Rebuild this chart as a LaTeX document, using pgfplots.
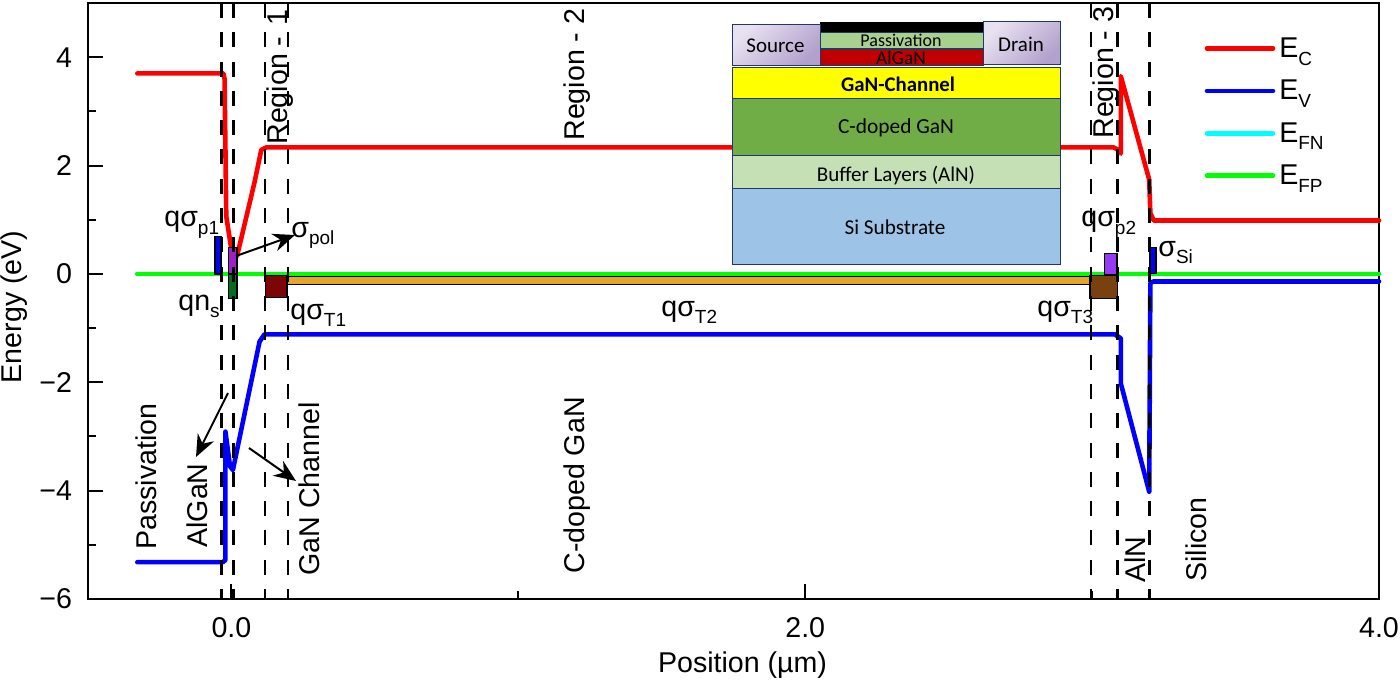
\documentclass[border=0pt]{standalone}
\usepackage{pgfplots}
\pgfplotsset{compat=1.18}
\usepackage{fontspec}
\setmainfont{Liberation Sans}
\newfontfamily\calibri{Carlito}
\usetikzlibrary{arrows.meta}
\definecolor{layerline}{RGB}{32,56,100}
\definecolor{ec}{RGB}{255,0,0}
\definecolor{ev}{RGB}{0,0,255}
\definecolor{efn}{RGB}{0,255,255}
\definecolor{efp}{RGB}{0,255,0}
\definecolor{tpol}{RGB}{160,32,200}
\definecolor{tns}{RGB}{0,110,30}
\definecolor{tone}{RGB}{125,5,5}
\definecolor{ttwo}{RGB}{230,165,40}
\definecolor{tthree}{RGB}{120,65,15}
\definecolor{tptwo}{RGB}{150,60,240}
\definecolor{lpass}{RGB}{169,209,142}
\definecolor{lalgan}{RGB}{192,0,0}
\definecolor{lchan}{RGB}{255,255,0}
\definecolor{lcdoped}{RGB}{112,173,71}
\definecolor{lbuffer}{RGB}{197,224,180}
\definecolor{lsi}{RGB}{157,195,230}
\definecolor{lmetala}{RGB}{232,226,240}
\definecolor{lmetalb}{RGB}{178,160,205}
% one picture pixel is 0.5pt
\newcommand{\sub}[1]{\raisebox{-3.8pt}{\fontsize{9.5}{10}\selectfont #1}}
\tikzset{
    lab/.style={font=\fontsize{14.3}{16}\selectfont,inner sep=0pt},
    vlab/.style={lab,rotate=90,anchor=base west},
    hlab/.style={lab,anchor=base west},
    arr/.style={black,line width=1pt,-{Stealth[length=11pt,width=9pt]}},
    layer/.style={draw=layerline,line width=0.5pt},
    layertxt/.style={font=\calibri\fontsize{#1}{11}\selectfont,text=black,inner sep=0pt},
}
\pgfplotsset{
    band/.style={line width=2.3pt,line join=round,line cap=round,no markers},
    trap/.style={draw=black,line width=0.7pt,fill=#1,forget plot},
    bound/.style={black,line width=1.2pt,dash pattern=on 7.5pt off 7.15pt,dash phase=2.5pt,forget plot},
}
\begin{document}
\begin{tikzpicture}
\path[use as bounding box] (-44pt,-41pt) rectangle (656pt,299.5pt);
\begin{axis}[
    at={(0pt,0pt)},anchor=south west,
    scale only axis,width=645.5pt,height=298pt,
    xmin=-0.5,xmax=4,ymin=-6,ymax=5,
    axis line style={line width=1.2pt},
    every tick/.style={black,line width=1pt},
    tick align=inside,
    major tick length=7.5pt,
    minor tick length=4pt,
    xtick={0,2,4},
    xticklabels={0.0,2.0,4.0},
    minor xtick={1,3},
    ytick={-6,-4,-2,0,2,4},
    yticklabels={−6,−4,−2,0,2,4},
    minor ytick={-5,-3,-1,1,3},
    xtick pos=bottom,ytick pos=left,
    tick label style={font=\fontsize{14.3}{16}\selectfont},
    xticklabel style={yshift=-5.5pt},
    yticklabel style={xshift=-4.5pt},
    xlabel={Position (µm)},ylabel={Energy (eV)},
    label style={font=\fontsize{14.3}{16}\selectfont},
    xlabel style={at={(axis description cs:0.507,0)},anchor=base,yshift=-36.5pt},
    ylabel style={at={(axis description cs:0,0.49)},anchor=base,yshift=33pt},
    clip=false,
    legend style={draw=none,fill=none,at={(axis cs:3.391,4.334)},anchor=north west,
        font=\fontsize{14.3}{16}\selectfont,row sep=8.8pt,inner sep=0pt,
        nodes={text height=9pt,text depth=3.4pt,inner sep=0pt},
        cells={anchor=base west}},
    legend image code/.code={\draw[#1,line cap=round] (0cm,4.5pt) -- (33pt,4.5pt);\path (35pt,0pt);},
]
\addplot[band,color=ec] coordinates {
    (-0.328,3.70)(-0.028,3.70)(-0.024,3.60)(-0.018,1.06)(-0.001,0.48)(0.012,0.30)(0.020,0.34)
    (0.080,1.68)(0.104,2.29)(0.121,2.335)(3.075,2.335)(3.090,2.29)(3.100,2.22)(3.100,3.65)
    (3.199,1.74)(3.203,1.12)(3.215,0.985)(4.0,0.985)};
\addlegendentry{E\sub{C}}
\addplot[band,color=ev] coordinates {
    (-0.328,-5.32)(-0.030,-5.32)(-0.021,-5.28)(-0.021,-2.91)(-0.005,-3.55)(0.005,-3.62)
    (0.098,-1.25)(0.115,-1.115)(3.079,-1.115)(3.100,-1.19)(3.100,-2.02)(3.199,-4.02)
    (3.203,-0.17)(3.213,-0.14)(4.0,-0.14)};
\addlegendentry{E\sub{V}}
\addplot[band,color=efn] coordinates {(-0.328,0)(4.0,0)};
\addlegendentry{E\sub{FN}}
\addplot[band,color=efp] coordinates {(-0.328,0)(4.0,0)};
\addlegendentry{E\sub{FP}}

% trap and charge boxes
\addplot[trap=ev] coordinates {(-0.058,0.69)(-0.036,0.69)(-0.036,0)(-0.058,0)} -- cycle;
\addplot[trap=tpol] coordinates {(-0.010,0.486)(0.019,0.486)(0.019,0)(-0.010,0)} -- cycle;
\addplot[trap=tns] coordinates {(-0.010,0)(0.019,0)(0.019,-0.45)(-0.010,-0.45)} -- cycle;
\addplot[trap=tone] coordinates {(0.118,-0.03)(0.193,-0.03)(0.193,-0.44)(0.118,-0.44)} -- cycle;
\addplot[trap=ttwo] coordinates {(0.193,-0.05)(2.992,-0.05)(2.992,-0.20)(0.193,-0.20)} -- cycle;
\addplot[trap=tthree] coordinates {(2.992,-0.03)(3.088,-0.03)(3.088,-0.45)(2.992,-0.45)} -- cycle;
\addplot[trap=tptwo] coordinates {(3.044,0.38)(3.087,0.38)(3.087,-0.02)(3.044,-0.02)} -- cycle;
\addplot[trap=ev] coordinates {(3.202,0.49)(3.223,0.49)(3.223,0.01)(3.202,0.01)} -- cycle;

% region boundaries
\addplot[bound] coordinates {(-0.034,-6)(-0.034,5)};
\addplot[bound] coordinates {(0.007,-6)(0.007,5)};
\addplot[bound] coordinates {(0.118,-6)(0.118,5)};
\addplot[bound] coordinates {(0.197,-6)(0.197,5)};
\addplot[bound] coordinates {(2.996,-6)(2.996,5)};
\addplot[bound] coordinates {(3.089,-6)(3.089,5)};
\addplot[bound] coordinates {(3.200,-6)(3.200,5)};
\end{axis}

% annotations, in picture pixels
\begin{scope}[shift={(-44pt,299.5pt)},x=0.5pt,y=-0.5pt]
    \node[vlab] at (287,145) {Region -\hspace{1.5pt} 1};
    \node[vlab] at (584,141) {Region - 2};
    \node[vlab] at (1113,139) {Region - 3};
    \node[vlab] at (156,550) {Passivation};
    \node[vlab] at (207,548) {AlGaN};
    \node[vlab] at (319,576) {GaN Channel};
    \node[vlab] at (584,574) {C-doped GaN};
    \node[vlab] at (1145,583) {AlN};
    \node[vlab] at (1206,582) {Silicon};

    \node[hlab] at (164,227) {qσ\sub{p1}};
    \node[hlab] at (178,310) {qn\sub{s}};
    \node[hlab] at (291,237) {σ\sub{pol}};
    \node[hlab] at (290,319) {qσ\sub{T1}};
    \node[hlab] at (661,316) {qσ\sub{T2}};
    \node[hlab] at (1037,316) {qσ\sub{T3}};
    \node[hlab] at (1081,227) {qσ\sub{p2}};
    \node[hlab] at (1158,256) {σ\sub{Si}};

    \draw[arr] (236,256) -- (295,235);
    \draw[arr] (228,393) -- (196,457);
    \draw[arr] (249,448) -- (296,481);

    % device stack
    \fill[black] (820,22) rectangle (983,32);
    \shade[layer,left color=lmetala,right color=lmetalb,shading angle=45]
        (732.5,24.5) rectangle (820,66);
    \shade[layer,left color=lmetala,right color=lmetalb,shading angle=45]
        (983,22) rectangle (1060.5,65);
    \filldraw[layer,fill=lpass] (820,32.5) rectangle (983,48.5);
    \filldraw[layer,fill=lalgan] (820,49.5) rectangle (983,66);
    \filldraw[layer,fill=lchan] (732.5,67.5) rectangle (1060,99);
    \filldraw[layer,fill=lcdoped] (732.5,99) rectangle (1060,155.5);
    \filldraw[layer,fill=lbuffer] (732.5,155.5) rectangle (1060,188.5);
    \filldraw[layer,fill=lsi] (732.5,188.5) rectangle (1060,264);
    \node[layertxt=10.5] at (775.5,46) {Source};
    \node[layertxt=10.5] at (1021,44) {Drain};
    \node[layertxt=9] at (901,40.5) {Passivation};
    \node[layertxt=9.7] at (901,58) {AlGaN};
    \node[layertxt=10.4] at (898,84) {\bfseries GaN-Channel};
    \node[layertxt=10.7] at (896,127.5) {C-doped GaN};
    \node[layertxt=10.5] at (896,176) {Buffer Layers (AlN)};
    \node[layertxt=10.6] at (895,227) {Si Substrate};
\end{scope}
\end{tikzpicture}
\end{document}
